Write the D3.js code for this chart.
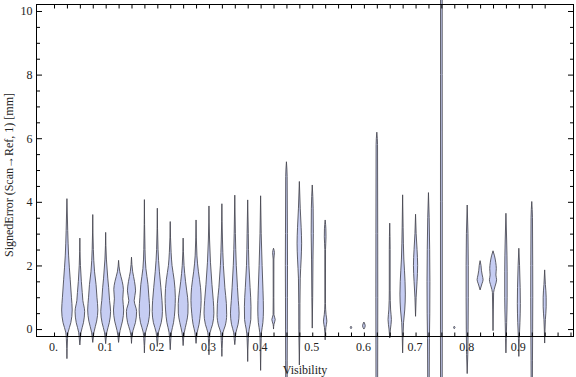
<!DOCTYPE html>
<html>
<head>
<meta charset="utf-8">
<script src="https://cdn.jsdelivr.net/npm/d3@7"></script>
<style>
  body { margin: 0; background: #fff; }
  svg text { font-family: "Liberation Serif", "DejaVu Serif", serif; }
</style>
</head>
<body>
<div id="chart"></div>
<script>
// category positions (Visibility)
const visibility = [0.025, 0.05, 0.075, 0.1, 0.125, 0.15, 0.175, 0.2, 0.225, 0.25,
    0.275, 0.3, 0.325, 0.35, 0.375, 0.4, 0.425, 0.45, 0.475, 0.5,
    0.525, 0.55, 0.575, 0.6, 0.625, 0.65, 0.675, 0.7, 0.725, 0.75,
    0.775, 0.8, 0.825, 0.85, 0.875, 0.9, 0.925, 0.95];

// violin outlines: [signed error, relative density]
const profiles = [
    [[4.1,0],[3.1,0.13],[2.3,0.28],[1.55,0.55],[1.0,0.75],[0.6,0.88],[0.2,0.65],[-0.1,0.2],[-0.3,0.1],[-0.93,0]],
    [[2.86,0],[2.0,0.1],[1.5,0.25],[1.15,0.4],[0.9,0.5],[0.55,0.8],[0.2,0.6],[-0.1,0.2],[-0.25,0.12],[-0.5,0]],
    [[3.6,0],[2.5,0.1],[1.8,0.3],[1.4,0.55],[1.0,0.7],[0.6,0.85],[0.25,0.65],[-0.1,0.2],[-0.25,0.1],[-0.42,0]],
    [[3.04,0],[2.2,0.12],[1.6,0.35],[1.3,0.5],[0.9,0.65],[0.55,0.82],[0.2,0.6],[-0.1,0.2],[-0.25,0.1],[-0.46,0]],
    [[2.16,0],[1.8,0.2],[1.5,0.6],[1.25,0.8],[0.95,0.7],[0.6,0.85],[0.25,0.65],[-0.05,0.25],[-0.2,0.12],[-0.42,0]],
    [[2.26,0],[1.8,0.2],[1.5,0.5],[1.2,0.68],[0.9,0.45],[0.55,0.85],[0.2,0.65],[-0.05,0.25],[-0.2,0.1],[-0.45,0]],
    [[4.07,0],[2.5,0.1],[1.9,0.25],[1.4,0.6],[1.0,0.75],[0.6,0.88],[0.2,0.65],[-0.1,0.2],[-0.3,0.1],[-0.75,0]],
    [[3.8,0],[2.5,0.12],[1.8,0.35],[1.3,0.6],[0.9,0.78],[0.55,0.85],[0.2,0.65],[-0.1,0.2],[-0.3,0.1],[-0.55,0]],
    [[3.38,0],[2.4,0.15],[2.0,0.3],[1.55,0.65],[1.0,0.85],[0.6,0.78],[0.2,0.55],[-0.1,0.2],[-0.3,0.1],[-0.65,0]],
    [[2.86,0],[2.0,0.15],[1.5,0.4],[1.2,0.6],[0.8,0.82],[0.5,0.8],[0.2,0.55],[-0.1,0.2],[-0.25,0.1],[-0.52,0]],
    [[3.43,0],[2.3,0.15],[1.8,0.4],[1.3,0.75],[0.9,0.85],[0.5,0.72],[0.15,0.5],[-0.1,0.2],[-0.25,0.1],[-0.45,0]],
    [[3.87,0],[2.8,0.1],[2.1,0.25],[1.4,0.5],[0.9,0.72],[0.5,0.82],[0.15,0.6],[-0.1,0.2],[-0.3,0.1],[-0.81,0]],
    [[3.94,0],[2.8,0.1],[2.0,0.25],[1.3,0.5],[0.8,0.75],[0.45,0.8],[0.1,0.55],[-0.1,0.2],[-0.35,0.1],[-0.86,0]],
    [[4.21,0],[3.0,0.1],[2.0,0.25],[1.3,0.45],[0.9,0.58],[0.5,0.72],[0.15,0.55],[-0.1,0.2],[-0.3,0.1],[-0.49,0]],
    [[4.06,0],[3.0,0.1],[2.0,0.2],[1.3,0.4],[0.7,0.55],[0.3,0.52],[0.0,0.25],[-0.3,0.1],[-1.02,0]],
    [[4.19,0],[3.0,0.1],[2.0,0.25],[1.2,0.4],[0.6,0.47],[0.2,0.38],[-0.1,0.15],[-0.5,0.07],[-1.3,0]],
    [[2.54,0],[2.4,0.15],[2.2,0.06],[1.0,0.05],[0.45,0.07],[0.3,0.28],[0.15,0.07],[0.0,0]],
    [[5.26,0],[4.8,0.12],[3.0,0.16],[2.0,0.18],[1.0,0.16],[0.0,0.15],[-1.0,0.13],[-1.8,0.12]],
    [[4.64,0],[3.8,0.15],[3.2,0.3],[2.7,0.38],[2.2,0.3],[1.6,0.15],[0.8,0.1],[0,0.09],[-1.13,0]],
    [[4.53,0],[3.8,0.15],[3.0,0.18],[2.2,0.12],[1.0,0.07],[0.03,0]],
    [[3.43,0],[3.15,0.12],[2.9,0.14],[2.5,0.06],[0.8,0.05],[0.45,0.15],[0.25,0.28],[0.05,0.12],[-0.34,0]],
    [],
    [[0.09,0],[0.05,0.12],[0.01,0]],
    [[0.22,0],[0.1,0.22],[0.0,0]],
    [[6.19,0],[5.8,0.12],[3.0,0.15],[1.0,0.16],[-0.5,0.15],[-1.8,0.14]],
    [[3.33,0],[2.5,0.07],[1.2,0.07],[0.6,0.15],[0.3,0.28],[0.0,0.12],[-0.28,0]],
    [[4.22,0],[3.2,0.08],[2.2,0.2],[1.5,0.4],[1.1,0.45],[0.6,0.35],[0.2,0.15],[-0.2,0.07],[-0.75,0]],
    [[3.61,0],[3.0,0.1],[2.5,0.25],[2.0,0.35],[1.5,0.25],[1.0,0.1],[0.4,0]],
    [[4.29,0],[3.5,0.12],[2.5,0.2],[1.5,0.24],[0.5,0.22],[-0.3,0.16],[-1.8,0.12]],
    [[11.0,0.14],[8.0,0.14],[4.0,0.15],[0.0,0.15],[-1.8,0.14]],
    [[0.09,0],[0.05,0.12],[0.01,0]],
    [[3.9,0],[3.0,0.13],[2.0,0.18],[1.0,0.18],[0,0.15],[-0.8,0.1],[-1.4,0]],
    [[2.15,0],[2.0,0.15],[1.85,0.22],[1.7,0.35],[1.55,0.5],[1.42,0.3],[1.23,0]],
    [[2.46,0],[2.3,0.25],[2.1,0.45],[1.9,0.55],[1.7,0.48],[1.55,0.6],[1.35,0.35],[1.15,0.1],[0.6,0.05],[-0.05,0]],
    [[3.64,0],[2.8,0.12],[1.8,0.2],[1.0,0.2],[0.2,0.12],[-0.3,0.06],[-0.75,0]],
    [[2.54,0],[2.0,0.12],[1.3,0.22],[0.8,0.25],[0.2,0.18],[-0.3,0.07],[-0.86,0]],
    [[4.01,0],[3.5,0.12],[2.0,0.16],[1.0,0.17],[0,0.15],[-1.0,0.12],[-1.8,0.1]],
    [[1.86,0],[1.4,0.12],[1.0,0.25],[0.7,0.25],[0.3,0.12],[0,0.06],[-0.44,0]]
];

// ticks and labels
const xTickVals = d3.range(0, 41).map(i => i * 0.025);      // bottom frame ticks
const xTopTickVals = d3.range(0, 39).map(i => i * 0.025);   // top frame ticks
const xLabelVals = [0, 0.1, 0.2, 0.3, 0.4, 0.5, 0.6, 0.7, 0.8, 0.9];
const xLabels = ["0.", "0.1", "0.2", "0.3", "0.4", "0.5", "0.6", "0.7", "0.8", "0.9"];
const yMajor = [0, 2, 4, 6, 8, 10];
const yMinor = d3.range(0, 21).map(i => i * 0.5).filter(v => v % 2 !== 0);
const xTitle = "Visibility";
const yTitle = "SignedError (Scan\u2192Ref, 1) [mm]";

function draw() {
    var w = 576;
    var h = 377;
    var left = 36, right = 574, top = 4, bottom = 337;

    var svg = d3.select("#chart")
                .append("svg")
                .attr("width", w)
                .attr("height", h);

    var xScale = d3.scaleLinear()
                .domain([-0.0349, 1.0068])
                .range([left, right]);

    var yScale = d3.scaleLinear()
                .domain([-0.25, 10.22])
                .range([bottom, top]);

    // half width of a violin in px
    var wScale = d3.scaleLinear().domain([0, 1]).range([0, 6]);

    // violins (not clipped, like the original)
    var g = svg.append("g");
    profiles.forEach(function(p, i) {
        if (p.length === 0) return;
        var cx = xScale(visibility[i]);
        var area = d3.area()
                .curve(d3.curveMonotoneY)
                .y(d => yScale(d[0]))
                .x0(d => cx - wScale(d[1]))
                .x1(d => cx + wScale(d[1]));
        g.append("path")
            .datum(p)
            .attr("d", area)
            .attr("fill", "#c6cdf3")
            .attr("stroke", "#45454f")
            .attr("stroke-opacity", 0.85)
            .attr("stroke-width", 1);
    });

    // frame
    svg.append("rect")
        .attr("x", left + 0.5)
        .attr("y", top + 0.5)
        .attr("width", right - left - 1)
        .attr("height", bottom - top - 1)
        .attr("fill", "none")
        .attr("stroke", "black")
        .attr("stroke-width", 1);

    // bottom ticks (inward)
    svg.append("g")
        .attr("transform", "translate(0," + (bottom - 0.5) + ")")
        .call(d3.axisBottom(xScale).tickValues(xTickVals).tickSize(-4).tickFormat(""))
        .call(g => g.select(".domain").remove());

    // bottom labels
    svg.append("g")
        .attr("transform", "translate(-1," + (bottom - 0.5) + ")")
        .call(d3.axisBottom(xScale).tickValues(xLabelVals).tickSize(0).tickPadding(6)
              .tickFormat((d, i) => xLabels[i]))
        .call(g => g.select(".domain").remove())
        .selectAll("text")
        .style("font-size", "12px")
        .attr("fill", "#222");

    // top ticks
    svg.append("g")
        .attr("transform", "translate(0," + (top + 0.5) + ")")
        .call(d3.axisTop(xScale).tickValues(xTopTickVals).tickSize(-4).tickFormat(""))
        .call(g => g.select(".domain").remove());

    // left ticks + labels
    svg.append("g")
        .attr("transform", "translate(" + (left + 0.5) + ",0)")
        .call(d3.axisLeft(yScale).tickValues(yMajor).tickSize(-5.5).tickPadding(4)
              .tickFormat(d3.format("d")))
        .call(g => g.select(".domain").remove())
        .selectAll("text")
        .style("font-size", "12px")
        .attr("fill", "#222");

    svg.append("g")
        .attr("transform", "translate(" + (left + 0.5) + ",0)")
        .call(d3.axisLeft(yScale).tickValues(yMinor).tickSize(-3.5).tickFormat(""))
        .call(g => g.select(".domain").remove());

    // right ticks
    svg.append("g")
        .attr("transform", "translate(" + (right - 0.5) + ",0)")
        .call(d3.axisRight(yScale).tickValues(yMajor).tickSize(-5.5).tickFormat(""))
        .call(g => g.select(".domain").remove());

    svg.append("g")
        .attr("transform", "translate(" + (right - 0.5) + ",0)")
        .call(d3.axisRight(yScale).tickValues(yMinor).tickSize(-3.5).tickFormat(""))
        .call(g => g.select(".domain").remove());

    // axis titles
    svg.append("text")
        .attr("text-anchor", "middle")
        .attr("x", (left + right) / 2)
        .attr("y", 374)
        .attr("fill", "#222")
        .style("font-size", "12px")
        .text(xTitle);

    svg.append("text")
        .attr("text-anchor", "middle")
        .attr("transform", "translate(13," + 175 + ") rotate(-90)")
        .attr("fill", "#222")
        .style("font-size", "12px")
        .text(yTitle);
}

draw();
</script>
</body>
</html>
